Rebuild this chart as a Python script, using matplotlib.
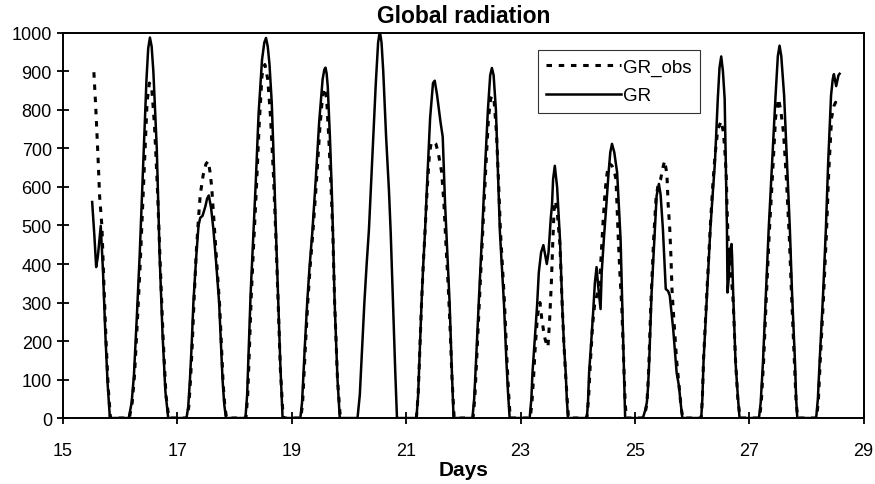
import numpy as np
import matplotlib
matplotlib.use("Agg")
import matplotlib.pyplot as plt

plt.rcParams['font.family'] = ['Liberation Sans', 'DejaVu Sans']

# GR (simulated) - days / W m-2, one line per day
gr_days = [15.51, 15.55, 15.58, 15.61, 15.66, 15.70, 15.74, 15.78, 15.82,
           16.15, 16.20, 16.24, 16.29, 16.34, 16.40, 16.46, 16.49, 16.52, 16.55, 16.58, 16.64, 16.69, 16.74, 16.79, 16.84,
           17.16, 17.19, 17.22, 17.25, 17.28, 17.33, 17.37, 17.40, 17.44, 17.49, 17.52, 17.55, 17.59, 17.63, 17.68, 17.73, 17.76, 17.79, 17.82, 17.85,
           18.19, 18.22, 18.25, 18.28, 18.32, 18.37, 18.42, 18.48, 18.52, 18.55, 18.58, 18.61, 18.65, 18.69, 18.72, 18.76, 18.80, 18.84,
           19.15, 19.18, 19.20, 19.23, 19.27, 19.31, 19.36, 19.42, 19.48, 19.54, 19.57, 19.59, 19.61, 19.63, 19.67, 19.70, 19.72, 19.75, 19.80, 19.84,
           20.15, 20.19, 20.23, 20.27, 20.31, 20.35, 20.41, 20.47, 20.51, 20.54, 20.57, 20.60, 20.65, 20.70, 20.73, 20.77, 20.81, 20.84,
           21.18, 21.21, 21.24, 21.27, 21.30, 21.33, 21.37, 21.42, 21.47, 21.50, 21.54, 21.60, 21.64, 21.68, 21.72, 21.76, 21.80, 21.83,
           22.16, 22.19, 22.22, 22.27, 22.33, 22.38, 22.43, 22.47, 22.50, 22.53, 22.57, 22.61, 22.64, 22.68, 22.71, 22.75, 22.78, 22.81,
           23.16, 23.19, 23.21, 23.25, 23.29, 23.32, 23.36, 23.40, 23.43, 23.46, 23.49, 23.53, 23.55, 23.57, 23.60, 23.64, 23.69, 23.73, 23.76, 23.79, 23.81, 23.83,
           24.16, 24.18, 24.20, 24.24, 24.27, 24.30, 24.33, 24.36, 24.40, 24.42, 24.46, 24.50, 24.54, 24.57, 24.60, 24.64, 24.69, 24.72, 24.75, 24.78, 24.81, 24.83,
           25.14, 25.18, 25.21, 25.23, 25.25, 25.29, 25.35, 25.38, 25.42, 25.45, 25.49, 25.52, 25.54, 25.58, 25.61, 25.67, 25.73, 25.77, 25.80, 25.83,
           26.16, 26.18, 26.20, 26.26, 26.32, 26.36, 26.40, 26.45, 26.48, 26.51, 26.54, 26.57, 26.59, 26.61, 26.62, 26.64, 26.66, 26.69, 26.70, 26.72, 26.76, 26.80, 26.83,
           27.17, 27.20, 27.24, 27.29, 27.34, 27.40, 27.46, 27.50, 27.53, 27.56, 27.61, 27.66, 27.71, 27.75, 27.80, 27.82, 27.84,
           28.17, 28.20, 28.23, 28.29, 28.34, 28.38, 28.43, 28.46, 28.48, 28.52, 28.56, 28.58]
gr = [561, 470, 392, 420, 499, 380, 220, 90, 0,
      0, 40, 110, 260, 420, 650, 880, 960, 988, 965, 900, 700, 420, 220, 70, 0,
      0, 30, 100, 190, 300, 420, 500, 520, 525, 550, 570, 578, 545, 490, 400, 300, 200, 100, 35, 0,
      0, 60, 190, 320, 450, 610, 790, 930, 975, 987, 965, 920, 820, 650, 500, 320, 140, 0,
      0, 40, 100, 190, 300, 390, 483, 620, 770, 880, 905, 910, 895, 860, 720, 590, 483, 300, 100, 0,
      0, 60, 180, 300, 400, 490, 680, 870, 975, 1005, 975, 900, 730, 590, 483, 300, 120, 0,
      0, 60, 180, 300, 400, 483, 620, 780, 870, 876, 840, 770, 730, 560, 430, 300, 120, 0,
      0, 50, 140, 300, 483, 650, 800, 890, 909, 890, 800, 620, 483, 380, 300, 160, 70, 0,
      0, 50, 119, 205, 292, 378, 430, 449, 425, 400, 430, 520, 551, 620, 655, 600, 465, 292, 190, 119, 50, 0,
      0, 40, 119, 205, 274, 350, 392, 340, 283, 378, 470, 551, 637, 690, 712, 690, 637, 550, 465, 292, 119, 0,
      0, 20, 41, 80, 145, 318, 491, 577, 608, 580, 491, 400, 335, 330, 318, 231, 118, 84, 40, 0,
      0, 50, 145, 318, 491, 580, 664, 829, 910, 939, 900, 829, 664, 491, 326, 360, 430, 452, 420, 318, 145, 58, 0,
      0, 40, 145, 318, 491, 664, 837, 940, 967, 940, 837, 664, 491, 318, 145, 50, 0,
      0, 50, 145, 318, 491, 664, 837, 880, 893, 862, 890, 894]

# GR_obs (measured); no observations on day 20
obs_days = [15.54, 15.57, 15.61, 15.64, 15.68, 15.71, 15.75, 15.79, 15.83,
            16.16, 16.21, 16.25, 16.30, 16.35, 16.41, 16.47, 16.51, 16.55, 16.60, 16.65, 16.70, 16.75, 16.80, 16.85,
            17.17, 17.20, 17.23, 17.26, 17.29, 17.33, 17.37, 17.40, 17.45, 17.50, 17.54, 17.57, 17.60, 17.64, 17.69, 17.74, 17.77, 17.80, 17.83, 17.86,
            18.20, 18.23, 18.26, 18.29, 18.33, 18.38, 18.43, 18.48, 18.53, 18.58, 18.63, 18.68, 18.72, 18.76, 18.80, 18.85,
            19.16, 19.19, 19.21, 19.24, 19.28, 19.32, 19.37, 19.43, 19.49, 19.54, 19.57, 19.61, 19.65, 19.69, 19.72, 19.75, 19.80, 19.85,
            20.50,
            21.18, 21.21, 21.24, 21.27, 21.30, 21.33, 21.37, 21.41, 21.44, 21.48, 21.52, 21.56, 21.62, 21.66, 21.70, 21.74, 21.77, 21.80, 21.84,
            22.17, 22.20, 22.23, 22.28, 22.34, 22.39, 22.44, 22.48, 22.51, 22.54, 22.58, 22.62, 22.65, 22.69, 22.72, 22.76, 22.79, 22.82,
            23.17, 23.20, 23.23, 23.26, 23.30, 23.34, 23.37, 23.40, 23.43, 23.46, 23.48, 23.51, 23.54, 23.56, 23.59, 23.61, 23.64, 23.69, 23.73, 23.76, 23.79, 23.82, 23.84,
            24.16, 24.19, 24.22, 24.26, 24.30, 24.34, 24.38, 24.41, 24.44, 24.47, 24.50, 24.53, 24.56, 24.60, 24.64, 24.67, 24.71, 24.74, 24.77, 24.81, 24.83, 24.85,
            25.14, 25.18, 25.21, 25.24, 25.28, 25.33, 25.37, 25.41, 25.45, 25.49, 25.52, 25.56, 25.58, 25.61, 25.63, 25.65, 25.68, 25.73, 25.78, 25.81, 25.84,
            26.16, 26.18, 26.20, 26.26, 26.32, 26.36, 26.40, 26.45, 26.51, 26.55, 26.58, 26.60, 26.61, 26.63, 26.68, 26.72, 26.76, 26.80, 26.84,
            27.18, 27.21, 27.25, 27.30, 27.35, 27.41, 27.46, 27.51, 27.55, 27.60, 27.65, 27.70, 27.74, 27.79, 27.82, 27.85,
            28.18, 28.21, 28.24, 28.30, 28.35, 28.39, 28.44, 28.48, 28.51, 28.55]
gr_obs = [898, 815, 686, 577, 499, 370, 210, 80, 0,
          0, 40, 110, 250, 400, 610, 820, 870, 860, 760, 600, 400, 210, 60, 0,
          0, 30, 100, 190, 300, 430, 520, 580, 630, 660, 667, 640, 600, 510, 400, 290, 190, 90, 30, 0,
          0, 60, 180, 310, 440, 590, 760, 890, 918, 880, 780, 630, 480, 310, 130, 0,
          0, 40, 100, 190, 300, 390, 483, 610, 750, 840, 857, 830, 720, 590, 470, 300, 100, 0,
          np.nan,
          0, 60, 180, 300, 400, 483, 600, 690, 715, 718, 712, 690, 640, 560, 440, 330, 230, 110, 0,
          0, 50, 140, 300, 483, 640, 780, 830, 837, 820, 740, 600, 483, 380, 300, 160, 70, 0,
          0, 40, 110, 190, 270, 300, 260, 230, 205, 190, 184, 257, 353, 439, 551, 564, 540, 450, 290, 190, 110, 40, 0,
          0, 50, 140, 240, 300, 320, 340, 420, 500, 569, 621, 650, 660, 655, 640, 620, 465, 370, 292, 119, 40, 0,
          0, 15, 35, 120, 300, 470, 570, 610, 620, 650, 668, 634, 560, 491, 422, 330, 260, 150, 70, 25, 0,
          0, 50, 150, 330, 500, 600, 680, 750, 771, 740, 680, 621, 552, 465, 380, 300, 150, 50, 0,
          0, 40, 145, 318, 480, 640, 780, 829, 800, 740, 620, 470, 318, 145, 40, 0,
          0, 50, 145, 318, 480, 640, 780, 810, 820, 807]

fig = plt.figure(figsize=(8.75, 4.85), dpi=100)
ax = fig.add_axes([0.072, 0.136, 0.915, 0.794])

ax.plot(obs_days, gr_obs, color='black', linestyle=(0, (1.8, 2.2)), linewidth=2.2, label='GR_obs')
ax.plot(gr_days, gr, color='black', linestyle='-', linewidth=1.8, label='GR')

ax.set_xlim(15, 29)
ax.set_ylim(0, 1000)
ax.set_xticks(np.arange(15, 30, 2))
ax.set_yticks(np.arange(0, 1001, 100))
ax.tick_params(direction='inout', length=8, width=1.3, labelsize=13, colors='black')
ax.tick_params(axis='x', pad=13)
ax.tick_params(axis='y', pad=4)
for s in ax.spines.values():
    s.set_linewidth(1.4)
    s.set_color('black')

ax.set_title('Global radiation', fontsize=16.5, fontweight='bold', pad=8)
ax.set_xlabel('Days', fontsize=15, fontweight='bold', labelpad=1)

leg = ax.legend(loc='upper left', bbox_to_anchor=(0.593, 0.955), fontsize=13.5,
                frameon=True, fancybox=False, shadow=False, handlelength=4.0,
                handletextpad=0.1, borderpad=0.45, labelspacing=0.6, borderaxespad=0)
leg.get_frame().set_edgecolor('black')
leg.get_frame().set_linewidth(0.8)

fig.savefig('out.png', dpi=100)
